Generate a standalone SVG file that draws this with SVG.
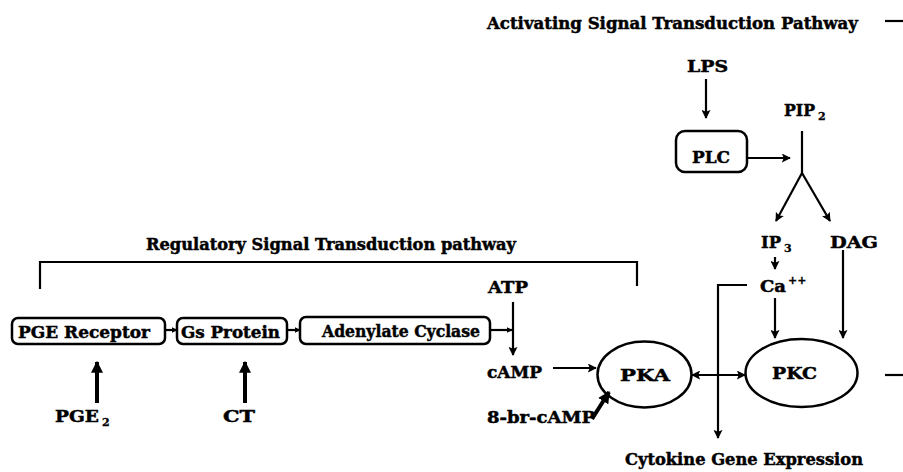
<svg xmlns="http://www.w3.org/2000/svg" width="903" height="472" viewBox="0 0 903 472">
<defs>
<marker id="ah" viewBox="0 0 10 10" refX="9" refY="5" markerWidth="9" markerHeight="9" markerUnits="userSpaceOnUse" orient="auto-start-reverse">
<path d="M0,0 L10,5 L0,10 L2,5 z" fill="#000"/>
</marker>
<marker id="ahb" viewBox="0 0 10 10" refX="9" refY="5" markerWidth="12" markerHeight="12" markerUnits="userSpaceOnUse" orient="auto">
<path d="M0,0 L10,5 L0,10 z" fill="#000"/>
</marker>
<marker id="ahs" viewBox="0 0 10 10" refX="9" refY="5" markerWidth="6" markerHeight="6" markerUnits="userSpaceOnUse" orient="auto">
<path d="M0,0 L10,5 L0,10 z" fill="#000"/>
</marker>
</defs>
<style>
text{font-family:"DejaVu Serif","Liberation Serif",serif;font-weight:bold;font-size:17.5px;fill:#000;stroke:#000;stroke-width:0.5}
.sub{font-size:11px;stroke-width:0.3}
.box{fill:none;stroke:#000;stroke-width:2.5}
.ell{fill:none;stroke:#000;stroke-width:2.5}
.c{fill:none;stroke:#000;stroke-width:2.2}
.ca{fill:none;stroke:#000;stroke-width:2.2;marker-end:url(#ah)}
.cs{fill:none;stroke:#000;stroke-width:2.2;marker-end:url(#ahs)}
.cb{fill:none;stroke:#000;stroke-width:4;marker-end:url(#ahb)}
</style>
<rect width="903" height="472" fill="#fff"/>

<g id="title-activating"><text x="487" y="29" textLength="371" lengthAdjust="spacingAndGlyphs">Activating Signal Transduction Pathway</text></g>
<g id="title-regulatory"><text x="146" y="250" textLength="370" lengthAdjust="spacingAndGlyphs">Regulatory Signal Transduction pathway</text></g>

<g id="LPS"><text x="687" y="72" textLength="41" lengthAdjust="spacingAndGlyphs">LPS</text></g>
<g id="PLC"><rect class="box" x="676" y="131" width="71" height="41" rx="9"/><text x="692" y="163" textLength="38" lengthAdjust="spacingAndGlyphs">PLC</text></g>
<g id="PIP2"><text x="784" y="116" textLength="31" lengthAdjust="spacingAndGlyphs">PIP</text><text class="sub" x="818" y="120">2</text></g>
<g id="IP3"><text x="761" y="248" textLength="20" lengthAdjust="spacingAndGlyphs">IP</text><text class="sub" x="784" y="252">3</text></g>
<g id="DAG"><text x="830" y="248" textLength="48" lengthAdjust="spacingAndGlyphs">DAG</text></g>
<g id="Ca"><text x="760" y="292" textLength="26" lengthAdjust="spacingAndGlyphs">Ca</text><text class="sub" x="788" y="284">++</text></g>

<g id="PGE-Receptor"><rect class="box" x="12" y="318" width="153" height="26" rx="6"/><text x="18" y="338" textLength="132" lengthAdjust="spacingAndGlyphs">PGE Receptor</text></g>
<g id="Gs-Protein"><rect class="box" x="177" y="318" width="110" height="26" rx="6"/><text x="181" y="338" textLength="99" lengthAdjust="spacingAndGlyphs">Gs Protein</text></g>
<g id="Adenylate-Cyclase"><rect class="box" x="300" y="317" width="190" height="27" rx="6"/><text x="322" y="337" textLength="158" lengthAdjust="spacingAndGlyphs">Adenylate Cyclase</text></g>

<g id="ATP"><text x="488" y="293" textLength="40" lengthAdjust="spacingAndGlyphs">ATP</text></g>
<g id="cAMP"><text x="487" y="378" textLength="55" lengthAdjust="spacingAndGlyphs">cAMP</text></g>
<g id="8-br-cAMP"><text x="487" y="423" textLength="108" lengthAdjust="spacingAndGlyphs">8-br-cAMP</text></g>
<g id="PKA"><ellipse class="ell" cx="644.5" cy="374.5" rx="47" ry="33"/><text x="620" y="381" textLength="50" lengthAdjust="spacingAndGlyphs">PKA</text></g>
<g id="PKC"><ellipse class="ell" cx="801.5" cy="373" rx="56" ry="34"/><text x="772" y="379" textLength="45" lengthAdjust="spacingAndGlyphs">PKC</text></g>
<g id="PGE2"><text x="55" y="422" textLength="44" lengthAdjust="spacingAndGlyphs">PGE</text><text class="sub" x="102" y="426">2</text></g>
<g id="CT"><text x="223" y="422" textLength="32" lengthAdjust="spacingAndGlyphs">CT</text></g>
<g id="Cytokine"><text x="625" y="465" textLength="238" lengthAdjust="spacingAndGlyphs">Cytokine Gene Expression</text></g>

<g id="connectors">
<path class="c" stroke-width="3" d="M885 21 H903"/>
<path class="c" stroke-width="3" d="M885 375 H903"/>
<path class="ca" d="M706 79 V118"/>
<path class="ca" d="M748 158 H790"/>
<path class="c" d="M802 131 V173"/>
<path class="ca" d="M802 173 L776 221"/>
<path class="ca" d="M802 173 L830 221"/>
<path class="ca" d="M775 257 V269"/>
<path class="ca" d="M775 298 V338"/>
<path class="ca" d="M843 250 V338"/>
<path class="ca" d="M747 285 H718 V438"/>
<path class="ca" style="marker-start:url(#ah)" d="M692 375 H745"/>
<path class="ca" d="M553 368 H596"/>
<path class="cb" d="M592 419 L609 392"/>
<path class="ca" d="M513 302 V355"/>
<path class="cs" d="M490 330 H512"/>
<path class="cs" d="M165 330 H177"/>
<path class="cs" d="M287 330 H300"/>
<path class="c" stroke-width="2.5" d="M40 289 V262 H637 V286"/>
<path class="cb" d="M97 403 V362"/>
<path class="cb" d="M245 403 V362"/>
</g>
</svg>
